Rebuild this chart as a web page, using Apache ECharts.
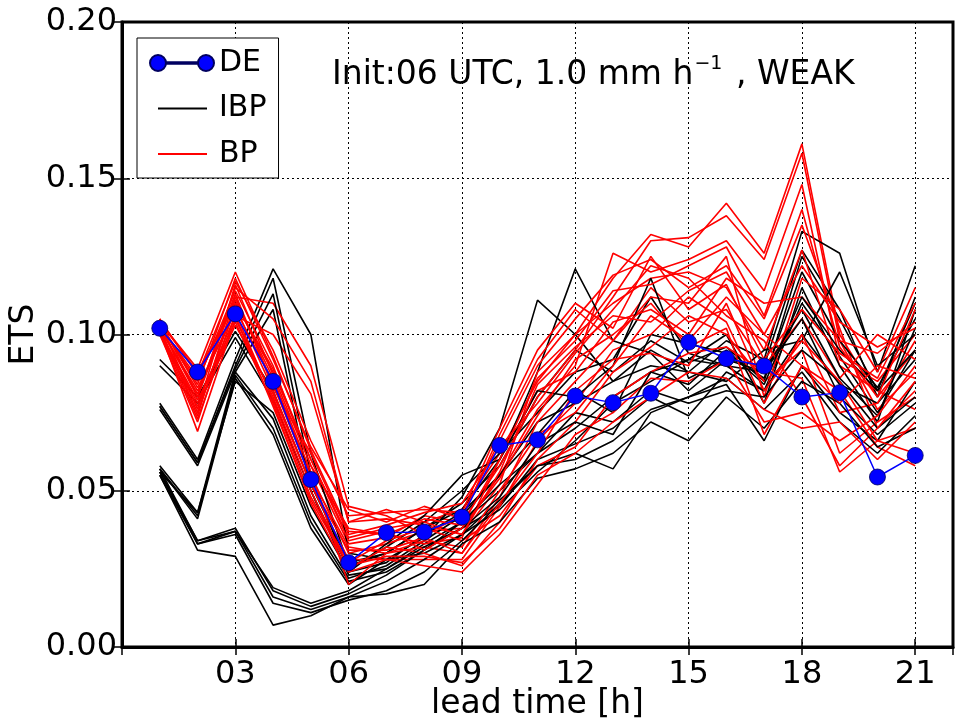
<!DOCTYPE html>
<html>
<head>
<meta charset="utf-8">
<script src="https://cdn.jsdelivr.net/npm/echarts@6/dist/echarts.min.js"></script>
<style>html,body{margin:0;padding:0;background:#fff;}#c{width:961px;height:721px;}</style>
</head>
<body>
<div id="c"></div>
<script>
const leadTimes = [1,2,3,4,5,6,7,8,9,10,11,12,13,14,15,16,17,18,19,20,21];
const xTicks = [3,6,9,12,15,18,21];
const yTicks = [0,0.05,0.10,0.15,0.20];

const DE = [0.102,0.088,0.1066,0.085,0.0536,0.027,0.0366,0.0368,0.0416,0.0645,0.0663,0.0803,0.0782,0.0812,0.0975,0.0923,0.0899,0.080,0.0814,0.0544,0.0613];

const IBP = [
  [0.092,0.080,0.101,0.082,0.052,0.027,0.030,0.038,0.046,0.058,0.080,0.095,0.088,0.098,0.091,0.096,0.085,0.125,0.105,0.082,0.110],
  [0.090,0.078,0.099,0.079,0.050,0.025,0.032,0.040,0.050,0.062,0.075,0.088,0.092,0.112,0.094,0.090,0.082,0.110,0.093,0.075,0.095],
  [0.078,0.060,0.092,0.121,0.100,0.030,0.028,0.035,0.048,0.070,0.111,0.100,0.085,0.090,0.088,0.098,0.092,0.133,0.126,0.088,0.122],
  [0.077,0.059,0.090,0.118,0.062,0.026,0.030,0.038,0.044,0.060,0.088,0.121,0.098,0.094,0.082,0.092,0.090,0.127,0.108,0.080,0.112],
  [0.077,0.059,0.089,0.113,0.055,0.024,0.027,0.036,0.043,0.055,0.068,0.082,0.075,0.100,0.097,0.094,0.086,0.120,0.098,0.083,0.105],
  [0.076,0.058,0.088,0.108,0.050,0.023,0.025,0.033,0.040,0.050,0.062,0.070,0.080,0.088,0.092,0.100,0.078,0.115,0.090,0.072,0.108],
  [0.058,0.043,0.088,0.073,0.042,0.022,0.026,0.034,0.042,0.055,0.072,0.078,0.085,0.095,0.088,0.085,0.095,0.098,0.120,0.090,0.100],
  [0.057,0.042,0.087,0.070,0.040,0.021,0.024,0.031,0.038,0.045,0.060,0.065,0.070,0.080,0.074,0.088,0.082,0.100,0.084,0.078,0.092],
  [0.057,0.041,0.086,0.068,0.038,0.020,0.028,0.030,0.036,0.047,0.058,0.062,0.057,0.075,0.080,0.084,0.066,0.090,0.075,0.066,0.085],
  [0.056,0.043,0.085,0.075,0.045,0.024,0.033,0.042,0.055,0.060,0.082,0.080,0.090,0.118,0.086,0.092,0.088,0.108,0.086,0.074,0.102],
  [0.057,0.034,0.038,0.018,0.013,0.017,0.023,0.031,0.040,0.052,0.062,0.075,0.072,0.082,0.078,0.082,0.080,0.095,0.085,0.070,0.080],
  [0.056,0.034,0.037,0.016,0.012,0.016,0.021,0.028,0.036,0.044,0.056,0.066,0.078,0.085,0.092,0.090,0.088,0.105,0.080,0.068,0.078],
  [0.055,0.033,0.036,0.014,0.011,0.015,0.018,0.024,0.034,0.046,0.058,0.060,0.066,0.076,0.080,0.086,0.076,0.088,0.072,0.062,0.074],
  [0.055,0.031,0.029,0.007,0.010,0.016,0.017,0.020,0.033,0.040,0.054,0.057,0.062,0.072,0.066,0.080,0.070,0.085,0.078,0.064,0.070],
  [0.056,0.033,0.037,0.019,0.014,0.018,0.025,0.032,0.038,0.048,0.065,0.072,0.068,0.088,0.084,0.095,0.084,0.112,0.095,0.082,0.095]
];

const BP = [
  [0.104,0.088,0.110,0.088,0.060,0.035,0.038,0.040,0.044,0.062,0.085,0.100,0.118,0.132,0.128,0.142,0.126,0.161,0.100,0.080,0.095],
  [0.103,0.085,0.114,0.090,0.058,0.033,0.035,0.042,0.040,0.058,0.080,0.095,0.112,0.130,0.131,0.138,0.124,0.158,0.098,0.076,0.088],
  [0.102,0.082,0.108,0.085,0.055,0.030,0.033,0.037,0.038,0.055,0.076,0.090,0.126,0.120,0.124,0.130,0.114,0.148,0.092,0.085,0.100],
  [0.105,0.080,0.112,0.110,0.090,0.045,0.042,0.036,0.042,0.066,0.090,0.105,0.119,0.124,0.115,0.122,0.105,0.135,0.102,0.070,0.082],
  [0.101,0.078,0.106,0.100,0.081,0.040,0.044,0.040,0.036,0.052,0.088,0.100,0.110,0.118,0.120,0.115,0.095,0.127,0.090,0.082,0.076],
  [0.103,0.084,0.118,0.092,0.064,0.044,0.040,0.045,0.041,0.068,0.092,0.108,0.098,0.112,0.110,0.125,0.080,0.118,0.108,0.088,0.115],
  [0.104,0.076,0.116,0.087,0.058,0.038,0.036,0.033,0.035,0.060,0.082,0.088,0.104,0.108,0.100,0.118,0.110,0.112,0.098,0.094,0.104],
  [0.102,0.074,0.112,0.084,0.054,0.032,0.030,0.032,0.030,0.048,0.072,0.085,0.098,0.115,0.104,0.108,0.090,0.105,0.086,0.100,0.092],
  [0.100,0.072,0.109,0.082,0.052,0.028,0.028,0.028,0.028,0.045,0.066,0.078,0.095,0.100,0.112,0.104,0.078,0.100,0.075,0.078,0.098],
  [0.101,0.069,0.105,0.080,0.050,0.025,0.032,0.030,0.026,0.040,0.060,0.072,0.088,0.096,0.106,0.100,0.085,0.095,0.062,0.072,0.080],
  [0.103,0.086,0.111,0.086,0.056,0.020,0.030,0.034,0.032,0.050,0.068,0.075,0.090,0.106,0.098,0.112,0.100,0.090,0.082,0.064,0.058],
  [0.104,0.083,0.107,0.079,0.048,0.027,0.034,0.038,0.034,0.042,0.058,0.064,0.080,0.088,0.094,0.096,0.088,0.086,0.056,0.066,0.070],
  [0.102,0.081,0.113,0.083,0.062,0.036,0.039,0.043,0.046,0.064,0.078,0.094,0.108,0.122,0.118,0.106,0.098,0.080,0.058,0.070,0.085],
  [0.101,0.079,0.104,0.078,0.046,0.024,0.028,0.026,0.024,0.036,0.052,0.068,0.075,0.086,0.085,0.092,0.072,0.075,0.066,0.074,0.090],
  [0.105,0.087,0.117,0.095,0.066,0.042,0.043,0.044,0.043,0.070,0.095,0.110,0.102,0.125,0.108,0.116,0.092,0.108,0.094,0.086,0.110],
  [0.100,0.077,0.103,0.081,0.052,0.031,0.031,0.035,0.030,0.046,0.062,0.082,0.092,0.094,0.090,0.110,0.082,0.098,0.085,0.066,0.062],
  [0.102,0.075,0.110,0.089,0.060,0.034,0.037,0.031,0.038,0.054,0.074,0.092,0.100,0.110,0.096,0.102,0.068,0.090,0.078,0.090,0.086],
  [0.103,0.080,0.115,0.105,0.085,0.040,0.041,0.039,0.036,0.056,0.084,0.096,0.106,0.104,0.114,0.120,0.100,0.122,0.104,0.096,0.102],
  [0.101,0.073,0.106,0.077,0.047,0.026,0.029,0.029,0.027,0.038,0.055,0.062,0.072,0.080,0.088,0.086,0.076,0.070,0.072,0.060,0.072],
  [0.104,0.089,0.120,0.093,0.063,0.037,0.036,0.041,0.039,0.060,0.086,0.098,0.114,0.116,0.122,0.128,0.106,0.140,0.096,0.080,0.108]
];

const FONT = 'DejaVu Sans';
const pair = arr => arr.map((v, i) => [leadTimes[i], v]);

const series = [];
const n = Math.max(IBP.length, BP.length);
for (let i = 0; i < n; i++) {
  if (i < IBP.length) series.push({
    name: 'IBP', type: 'line', data: pair(IBP[i]), symbol: 'none',
    lineStyle: { color: '#000000', width: 1.6 }, itemStyle: { color: '#000000' }, silent: true
  });
  if (i < BP.length) series.push({
    name: 'BP', type: 'line', data: pair(BP[i]), symbol: 'none',
    lineStyle: { color: '#ff0000', width: 1.6 }, itemStyle: { color: '#ff0000' }, silent: true
  });
}
series.push({
  name: 'DE', type: 'line', data: pair(DE), symbol: 'circle', symbolSize: 16,
  lineStyle: { color: '#0000ff', width: 1.5 },
  itemStyle: { color: '#0000ff', borderColor: '#000060', borderWidth: 0.8 }, z: 5
});

const deIcon = 'path://M0,8a8,8 0 1,0 16,0a8,8 0 1,0 -16,0Z M48,8a8,8 0 1,0 16,0a8,8 0 1,0 -16,0Z M16,7.2h32v1.6h-32Z';
const lineIcon = 'path://M0,0h0.01v0.01h-0.01Z M8,7.1h49v1.8h-49Z M63.99,15.99h0.01v0.01h-0.01Z';

const chart = echarts.init(document.getElementById('c'), null, { renderer: 'canvas' });
chart.setOption({
  animation: false,
  backgroundColor: '#ffffff',
  textStyle: { fontFamily: FONT },
  title: {
    left: 327, top: 50,
    text: '{a|Init:06 UTC, 1.0 mm h}{s|\u22121}{a| , WEAK}',
    textStyle: {
      fontWeight: 'normal',
      rich: {
        a: { fontFamily: FONT, fontSize: 33, fontWeight: 'normal', color: '#000', lineHeight: 40 },
        s: { fontFamily: FONT, fontSize: 19, fontWeight: 'normal', color: '#000', verticalAlign: 'top', lineHeight: 40, padding: [0, 3, 0, 1] }
      }
    }
  },
  legend: {
    left: 137, top: 38, orient: 'vertical',
    backgroundColor: '#ffffff', borderColor: '#000000', borderWidth: 1,
    padding: [10, 12, 9, 12], itemGap: 15.5, itemWidth: 64, itemHeight: 16,
    textStyle: { fontFamily: FONT, fontSize: 30, color: '#000' },
    data: [
      { name: 'DE', icon: deIcon, itemStyle: { color: '#0000ff' } },
      { name: 'IBP', icon: lineIcon, itemStyle: { color: '#000000' } },
      { name: 'BP', icon: lineIcon, itemStyle: { color: '#ff0000' } }
    ],
    selectedMode: false
  },
  grid: { left: 122, top: 22, width: 831, height: 625, show: true, borderColor: '#000', borderWidth: 3, containLabel: false, outerBoundsMode: 'none' },
  xAxis: [{
    type: 'value', min: 0, max: 22, interval: 3,
    name: 'lead time [h]', nameLocation: 'middle', nameGap: 41, nameMoveOverlap: false,
    nameTextStyle: { fontFamily: FONT, fontSize: 33, color: '#000' },
    axisLine: { show: true, lineStyle: { color: '#000', width: 3 } },
    axisTick: { show: true, inside: true, length: 8, lineStyle: { color: '#000', width: 1.5 } },
    axisLabel: {
      fontFamily: FONT, fontSize: 32, color: '#000', margin: 12,
      formatter: v => xTicks.indexOf(v) >= 0 ? String(v).padStart(2, '0') : ''
    },
    splitLine: { show: true, lineStyle: { color: '#000', width: 1, type: [2, 3] } }
  }, {
    type: 'value', min: 0, max: 22, interval: 3, position: 'top',
    axisLine: { show: false }, axisLabel: { show: false }, splitLine: { show: false },
    axisTick: { show: true, inside: true, length: 8, lineStyle: { color: '#000', width: 1.5 } }
  }],
  yAxis: [{
    type: 'value', min: 0, max: 0.2, interval: 0.05,
    name: 'ETS', nameLocation: 'middle', nameGap: 81, nameRotate: 90, nameMoveOverlap: false,
    nameTextStyle: { fontFamily: FONT, fontSize: 33, color: '#000' },
    axisLine: { show: true, lineStyle: { color: '#000', width: 3 } },
    axisTick: { show: true, inside: true, length: 8, lineStyle: { color: '#000', width: 1.5 } },
    axisLabel: {
      fontFamily: FONT, fontSize: 32, color: '#000', margin: 5,
      formatter: v => yTicks.some(t => Math.abs(t - v) < 1e-9) ? v.toFixed(2) : ''
    },
    splitLine: { show: true, lineStyle: { color: '#000', width: 1, type: [2, 3] } }
  }, {
    type: 'value', min: 0, max: 0.2, interval: 0.05, position: 'right',
    axisLine: { show: false }, axisLabel: { show: false }, splitLine: { show: false },
    axisTick: { show: true, inside: true, length: 8, lineStyle: { color: '#000', width: 1.5 } }
  }],
  series: series
});
</script>
</body>
</html>
